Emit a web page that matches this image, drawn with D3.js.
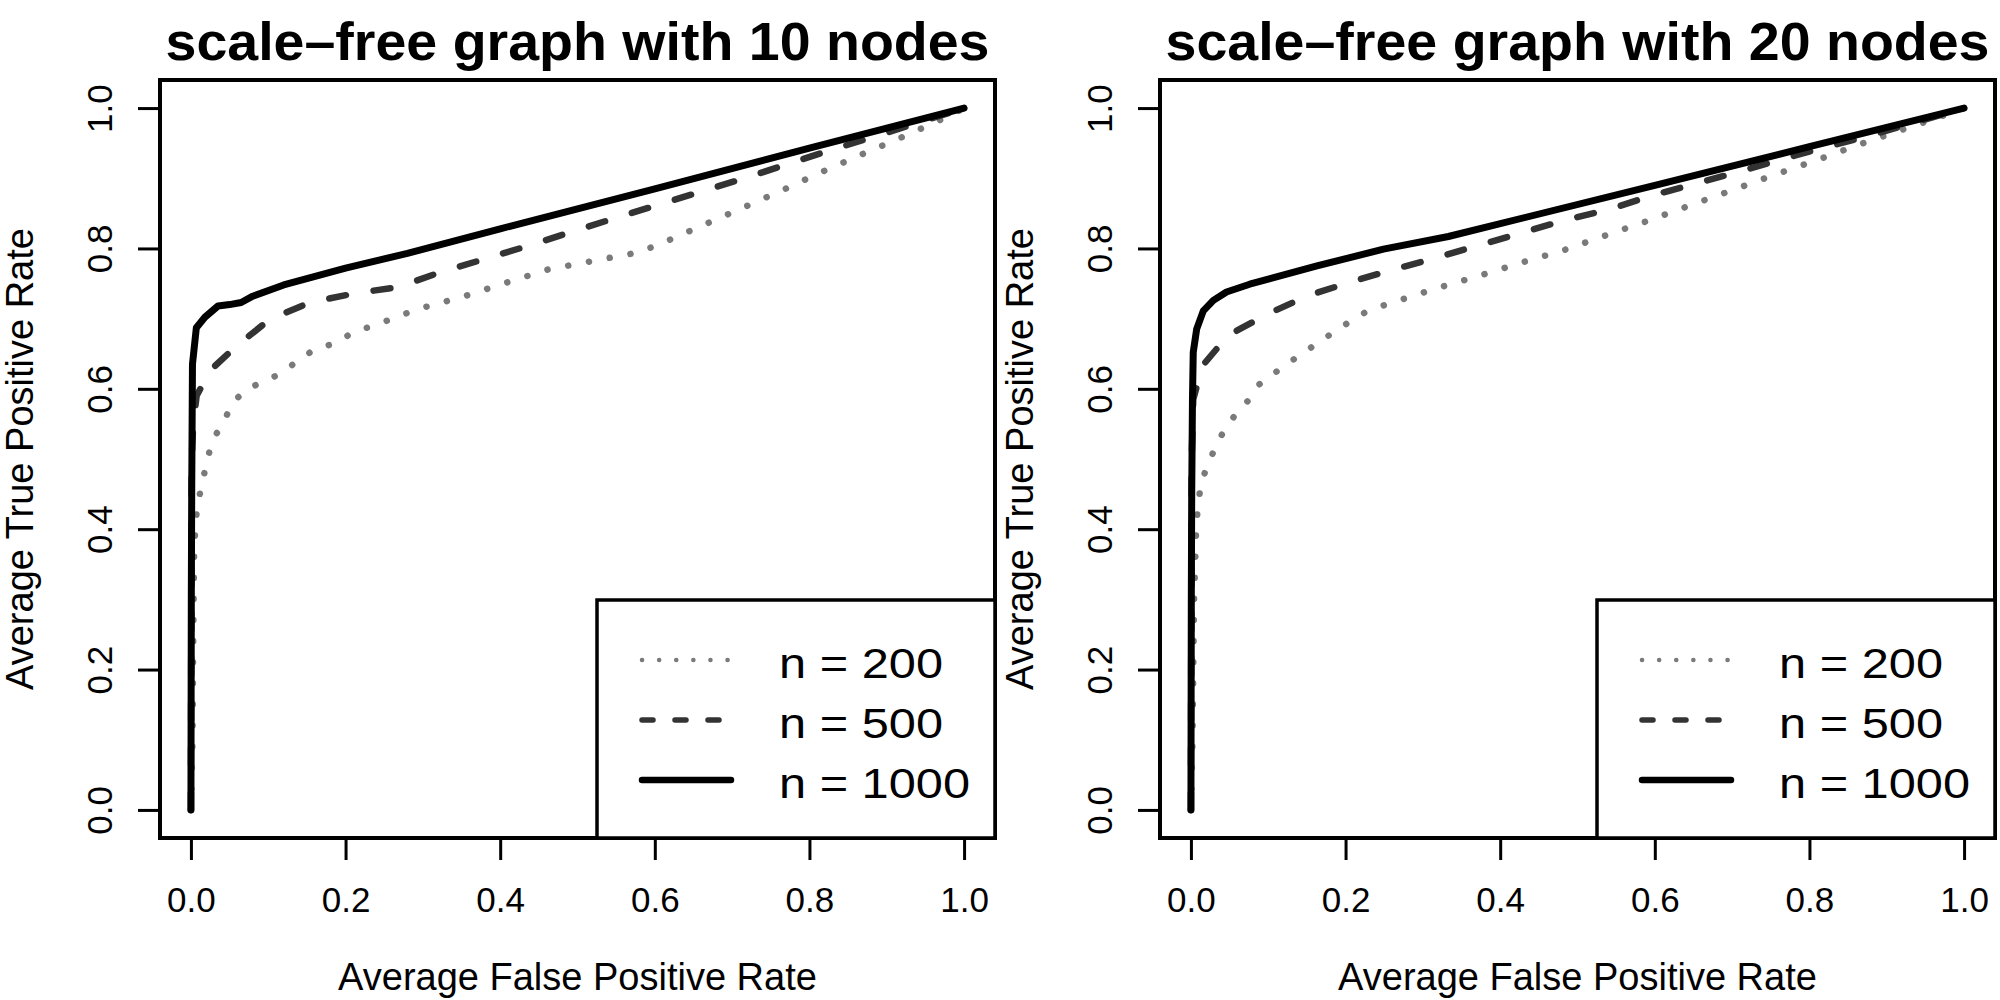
<!DOCTYPE html>
<html>
<head>
<meta charset="utf-8">
<script src="https://cdn.jsdelivr.net/npm/d3@7"></script>
<style>
  body { margin: 0; background: #fff; }
  svg { display: block; font-family: "Liberation Sans", Arial, Helvetica, sans-serif; }
</style>
</head>
<body>
<div id="chart"></div>
<script>
// panel titles, ticks and legend labels
var panel_titles = ['scale\u2013free graph with 10 nodes', 'scale\u2013free graph with 20 nodes'];
var x_ticks = [0, 0.2, 0.4, 0.6, 0.8, 1.0];
var y_ticks = [0, 0.2, 0.4, 0.6, 0.8, 1.0];
var x_label = 'Average False Positive Rate';
var y_label = 'Average True Positive Rate';
var series_names = ['n = 200', 'n = 500', 'n = 1000'];

// [false positive rate, true positive rate]
var sf10_n200 = [[0,0],[0.002,0.1],[0.003,0.25],[0.004,0.36],[0.0055,0.4],[0.0074,0.425],[0.012,0.453],
  [0.018,0.483],[0.024,0.511],[0.032,0.534],[0.044,0.557],[0.054,0.58],[0.07,0.598],[0.093,0.61],
  [0.117,0.622],[0.138,0.64],[0.161,0.657],[0.187,0.665],[0.212,0.682],[0.24,0.691],[0.267,0.703],
  [0.295,0.714],[0.351,0.731],[0.407,0.751],[0.462,0.77],[0.519,0.782],[0.577,0.794],[0.604,0.805],
  [0.658,0.831],[0.712,0.857],[0.765,0.883],[0.818,0.91],[0.872,0.936],[0.925,0.961],[0.979,0.988],[1,1]];
var sf10_n500 = [[0,0],[0.0005,0.3],[0.001,0.5],[0.003,0.55],[0.0074,0.59],[0.0246,0.626],[0.059,0.661],
  [0.102,0.699],[0.154,0.723],[0.212,0.736],[0.268,0.745],[0.278,0.749],[0.325,0.767],[0.38,0.785],
  [0.437,0.804],[0.493,0.824],[0.548,0.843],[0.604,0.862],[0.66,0.881],[0.716,0.9],[0.771,0.92],
  [0.827,0.94],[0.883,0.959],[1,1]];
var sf10_n1000 = [[0,0],[0.0005,0.3],[0.001,0.45],[0.002,0.635],[0.007,0.687],[0.018,0.702],[0.035,0.718],
  [0.05,0.72],[0.065,0.723],[0.08,0.732],[0.12,0.748],[0.2,0.772],[0.28,0.793],[0.4,0.828],[0.6,0.885],
  [0.8,0.943],[1,1]];

var sf20_n200 = [[0,0],[0.002,0.1],[0.004,0.3],[0.007,0.41],[0.0125,0.463],[0.021,0.49],[0.031,0.515],
  [0.042,0.539],[0.056,0.561],[0.073,0.582],[0.088,0.606],[0.11,0.624],[0.133,0.642],[0.157,0.66],
  [0.181,0.678],[0.206,0.696],[0.23,0.712],[0.258,0.722],[0.286,0.732],[0.314,0.742],[0.37,0.76],
  [0.425,0.779],[0.481,0.797],[0.535,0.818],[0.59,0.839],[0.645,0.861],[0.7,0.883],[0.755,0.905],
  [0.81,0.926],[0.864,0.948],[0.92,0.969],[0.975,0.99],[1,1]];
var sf20_n500 = [[0,0],[0.0005,0.3],[0.001,0.5],[0.003,0.585],[0.015,0.633],[0.048,0.676],[0.098,0.706],
  [0.152,0.733],[0.206,0.752],[0.262,0.77],[0.318,0.787],[0.43,0.823],[0.486,0.841],[0.542,0.856],
  [0.598,0.876],[0.655,0.893],[0.711,0.91],[0.767,0.928],[0.823,0.945],[0.879,0.961],[1,1]];
var sf20_n1000 = [[0,0],[0.0005,0.3],[0.001,0.448],[0.002,0.585],[0.003,0.652],[0.0074,0.685],[0.016,0.711],
  [0.029,0.726],[0.046,0.738],[0.076,0.749],[0.163,0.775],[0.249,0.799],[0.333,0.817],[0.6,0.89],
  [0.8,0.945],[1,1]];

var panels = [
  { title: panel_titles[0], series: [sf10_n200, sf10_n500, sf10_n1000] },
  { title: panel_titles[1], series: [sf20_n200, sf20_n500, sf20_n1000] }
];

// line styles per series: dotted grey, dashed dark grey, solid black
var line_color = ['#7a7a7a', '#333', '#000'];
var line_width = [6.5, 6.5, 7];
var line_dash  = ['0.1 21', '17 28', null];
var key_width  = [4.5, 5.5, 6.5];
var key_dash   = ['0.1 17', '11 22', null];

var box = { left: 160, right: 995, top: 80, bottom: 838 };
var font = '"Liberation Sans", Arial, Helvetica, sans-serif';

var svg = d3.select('#chart').append('svg')
  .attr('width', 2000)
  .attr('height', 1000);

function draw_panel(p, i) {
  var g = svg.append('g')
    .attr('transform', `translate(${ i * 1000 }, 0)`);

  var x = d3.scaleLinear().domain([-0.04, 1.04]).range([box.left, box.right]);
  var y = d3.scaleLinear().domain([-0.04, 1.04]).range([box.bottom, box.top]);

  // title
  g.append('text')
    .attr('x', (box.left + box.right) / 2)
    .attr('y', 60)
    .attr('text-anchor', 'middle')
    .attr('font-size', 54)
    .attr('font-weight', 'bold')
    .attr('textLength', 824)
    .attr('lengthAdjust', 'spacingAndGlyphs')
    .text(p.title);

  // axes
  var xa = g.append('g')
    .attr('transform', `translate(0, ${ box.bottom })`)
    .call(d3.axisBottom(x).tickValues(x_ticks).tickSize(22).tickFormat(d3.format('.1f')));

  xa.select('.domain').remove();
  xa.attr('font-family', font).attr('font-size', 35);
  xa.selectAll('.tick line').attr('stroke-width', 3);
  xa.selectAll('.tick text')
    .attr('y', 74)
    .attr('dy', 0)
    .attr('fill', '#000');

  var ya = g.append('g')
    .attr('transform', `translate(${ box.left }, 0)`)
    .call(d3.axisLeft(y).tickValues(y_ticks).tickSize(22).tickFormat(d3.format('.1f')));

  ya.select('.domain').remove();
  ya.attr('font-family', font).attr('font-size', 35);
  ya.selectAll('.tick line').attr('stroke-width', 3);
  ya.selectAll('.tick text')
    .attr('x', 0)
    .attr('dy', 0)
    .attr('text-anchor', 'middle')
    .attr('transform', 'translate(-48, 0) rotate(-90)')
    .attr('fill', '#000');

  // axis titles
  g.append('text')
    .attr('x', x(0.5))
    .attr('y', 990)
    .attr('text-anchor', 'middle')
    .attr('font-size', 38)
    .text(x_label);

  g.append('text')
    .attr('transform', `translate(33, ${ y(0.5) }) rotate(-90)`)
    .attr('text-anchor', 'middle')
    .attr('font-size', 38)
    .text(y_label);

  // curves
  var line = d3.line()
    .x(d => x(d[0]))
    .y(d => y(d[1]));

  p.series.forEach((s, k) => {
    g.append('path')
      .datum(s)
      .attr('d', line)
      .attr('fill', 'none')
      .attr('stroke', line_color[k])
      .attr('stroke-width', line_width[k])
      .attr('stroke-linecap', 'round')
      .attr('stroke-linejoin', 'round')
      .attr('stroke-dasharray', line_dash[k]);
  });

  // plot frame
  g.append('rect')
    .attr('x', box.left)
    .attr('y', box.top)
    .attr('width', box.right - box.left)
    .attr('height', box.bottom - box.top)
    .attr('fill', 'none')
    .attr('stroke', '#000')
    .attr('stroke-width', 4);

  // legend, bottom right
  var lg = g.append('g').attr('class', 'legend');

  lg.append('rect')
    .attr('x', 597)
    .attr('y', 600)
    .attr('width', box.right - 597)
    .attr('height', box.bottom - 600)
    .attr('fill', '#fff')
    .attr('stroke', '#000')
    .attr('stroke-width', 3.5);

  series_names.forEach((name, k) => {
    var ry = 660 + k * 60;

    lg.append('line')
      .attr('x1', 642)
      .attr('x2', 731)
      .attr('y1', ry)
      .attr('y2', ry)
      .attr('stroke', line_color[k])
      .attr('stroke-width', key_width[k])
      .attr('stroke-linecap', 'round')
      .attr('stroke-dasharray', key_dash[k]);

    lg.append('text')
      .attr('x', 779)
      .attr('y', ry + 18)
      .attr('font-size', 42)
      .attr('textLength', k == 2 ? 191 : 164)
      .attr('lengthAdjust', 'spacingAndGlyphs')
      .text(name);
  });
}

panels.forEach(draw_panel);
</script>
</body>
</html>
